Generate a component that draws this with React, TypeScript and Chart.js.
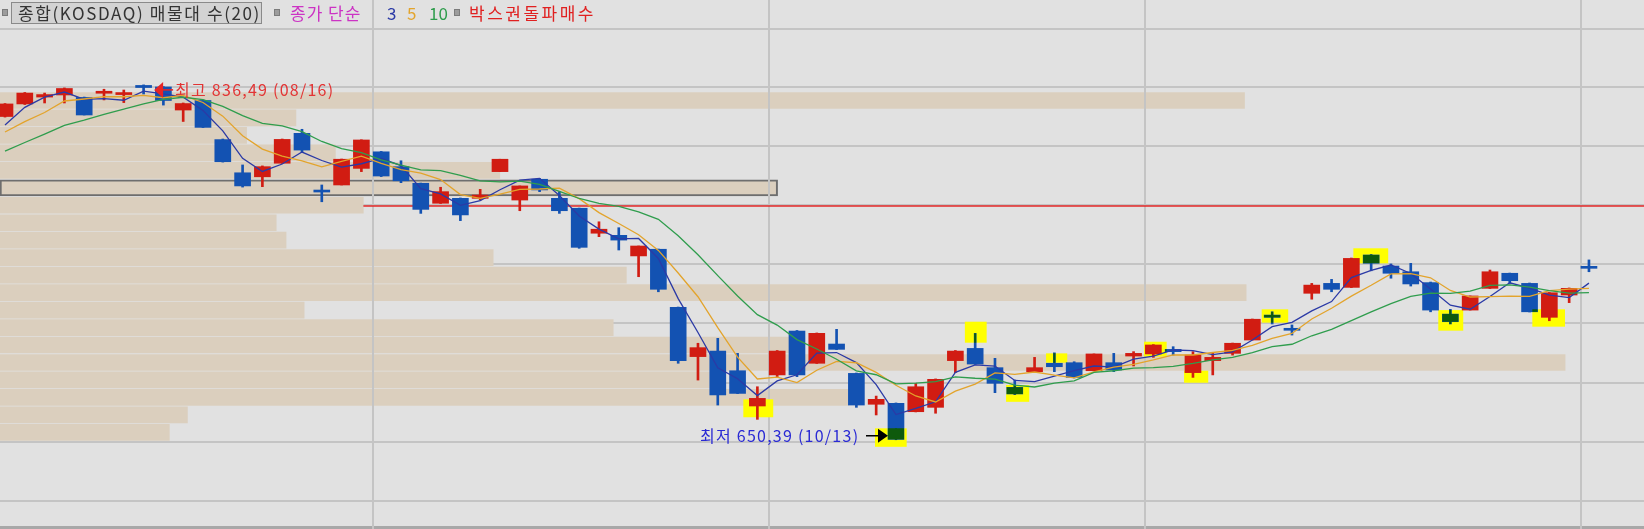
import React, { useEffect, useRef } from 'react';
import { Chart, registerables } from 'chart.js';

Chart.register(...registerables);

const W = 1644;
const H = 529;

// ---------------- data (KOSDAQ daily, index points) ----------------
const opens = [
  819.9, 826.5, 830.1, 831.2, 829.9, 832.1, 831.4, 836.2, 835.4, 823.3,
  828.3, 807.8, 790.4, 788.3, 795.4, 811.1, 780.8, 784.0, 792.7, 801.4,
  793.6, 784.9, 774.4, 777.0, 777.0, 791.0, 776.1, 787.0, 777.0, 771.8,
  758.7, 757.6, 746.8, 750.3, 719.9, 694.0, 696.9, 686.6, 668.1, 684.4,
  707.4, 690.5, 700.6, 685.2, 669.0, 669.5, 665.1, 667.4, 691.9, 698.3,
  688.2, 677.9, 686.1, 690.5, 690.8, 686.6, 690.8, 694.3, 695.4, 697.8,
  685.6, 691.9, 695.7, 702.7, 715.8, 708.7, 727.2, 732.4, 730.3, 747.3,
  741.5, 738.5, 732.8, 716.3, 718.4, 729.8, 737.7, 732.4, 714.6, 726.3,
  741.1,
];
const highs = [
  826.7, 832.5, 832.2, 834.9, 830.1, 834.2, 833.8, 836.49, 835.6, 827.0,
  828.6, 808.1, 794.5, 794.0, 808.1, 813.2, 784.0, 797.6, 807.7, 801.6,
  796.7, 785.0, 782.8, 777.2, 781.7, 797.5, 783.5, 787.4, 780.5, 771.9,
  764.7, 761.6, 752.0, 750.4, 720.0, 701.0, 703.6, 695.7, 678.2, 697.2,
  707.7, 706.4, 708.3, 685.4, 673.3, 669.7, 680.0, 682.3, 697.2, 706.2,
  693.1, 681.7, 693.6, 696.0, 691.3, 695.4, 695.7, 696.6, 700.3, 699.2,
  696.6, 695.7, 701.1, 713.7, 717.5, 710.6, 732.4, 734.5, 745.7, 747.5,
  742.6, 742.9, 733.1, 718.8, 725.8, 739.4, 737.8, 732.6, 727.6, 730.0,
  744.7,
];
const lows = [
  819.6, 826.2, 827.0, 827.0, 820.7, 828.6, 827.2, 831.7, 825.9, 817.3,
  814.1, 796.0, 782.9, 783.1, 795.3, 801.4, 775.2, 784.0, 791.0, 788.4,
  785.2, 769.1, 774.3, 765.3, 776.1, 791.0, 770.5, 780.5, 769.1, 750.8,
  756.9, 749.9, 735.9, 728.0, 690.5, 681.7, 668.6, 674.6, 661.1, 683.5,
  683.5, 690.4, 697.7, 667.4, 663.4, 650.39, 665.0, 664.3, 685.6, 689.9,
  675.1, 674.1, 685.9, 686.1, 682.8, 686.5, 686.1, 689.1, 693.6, 694.8,
  683.1, 684.4, 694.8, 702.7, 711.1, 705.3, 724.1, 728.0, 730.2, 739.0,
  735.1, 731.0, 717.5, 711.1, 718.4, 729.7, 732.4, 717.4, 712.8, 722.3,
  738.5,
];
const closes = [
  826.5, 832.2, 831.4, 834.6, 820.7, 832.6, 832.0, 835.1, 828.3, 826.7,
  814.2, 796.2, 783.5, 793.6, 807.9, 802.3, 780.3, 797.5, 807.6, 788.7,
  786.2, 771.2, 780.5, 768.3, 778.7, 797.5, 783.5, 781.4, 770.5, 751.3,
  760.8, 755.1, 752.0, 729.3, 691.9, 698.7, 673.9, 674.7, 672.1, 696.9,
  684.4, 706.2, 697.8, 668.6, 671.6, 650.6, 678.2, 682.1, 696.9, 690.1,
  680.0, 674.4, 688.2, 688.7, 683.1, 695.4, 687.0, 695.7, 700.1, 696.6,
  694.8, 693.6, 701.0, 713.6, 714.6, 707.8, 731.5, 729.3, 745.5, 742.9,
  737.7, 732.1, 718.4, 712.3, 725.8, 738.5, 733.8, 717.5, 727.5, 729.8,
  740.3,
];
// closes of the 9 sessions before the visible window (needed by the moving averages)
const priorCloses = [786.6, 787.7, 788.7, 792.9, 802.3, 805.0, 807.6, 804.4, 815.5];
const maPeriods = [3, 5, 10];

const highDate = '08/16';
const lowDate = '10/13';

// volume profile (매물대, 20 price bins)
const profileTop = 832.9;
const profileBottom = 649.7;
const profileVolumes = [757, 180, 150, 204, 304, 473, 221, 168, 174, 300, 381, 758, 185, 373, 481, 952, 435, 516, 114, 103];
const profileHighlight = 5;
const profileMax = 1000;

// grid / reference levels
const gridPrices = [865.8, 835.6, 804.5, 773.5, 742.4, 711.4, 680.3, 649.3, 618.2];
const monthBreaks = [18.57, 38.57, 57.57, 79.6];
const redLinePrice = 773.0;
const redLineFrom = 18.1;

// 박스권돌파매수 signal boxes: [fromIndex, toIndex, topPrice, bottomPrice]
const signalBoxes = [
  [37.29, 38.8, 671.6, 662.2],
  [43.94, 45.54, 656.4, 646.7],
  [48.48, 49.58, 712.3, 701.3],
  [50.56, 51.73, 679.1, 670.3],
  [52.58, 53.65, 695.7, 690.8],
  [57.53, 58.67, 701.8, 694.0],
  [59.55, 60.77, 686.6, 680.3],
  [63.47, 64.81, 718.8, 711.8],
  [68.1, 69.86, 750.8, 742.9],
  [72.39, 73.65, 718.4, 707.6],
  [77.14, 78.79, 718.8, 709.7],
];

const X_MIN = -0.2525;
const X_MAX = 82.78;
const Y_MIN = 603.6;
const Y_MAX = 881;

// ---------------- styles ----------------
const BG = '#e1e1e1';
const GRID = '#c4c4c4';
const TAN = '#dbcfbe';
const UP = '#d11c12';
const DOWN = '#1352b2';
const YELLOW = '#ffff00';
const SIGNAL_GREEN = '#0e5a0c';
const MA_COLORS = ['#2b3aa6', '#e3a42c', '#2f9d4d'];
const FONT = '"Noto Sans CJK KR", "Noto Sans", sans-serif';

const PROFILE_IDX = 0;
const WICK_IDX = 1;
const BODY_IDX = 2;

const candleColor = (i: number) => (closes[i] >= opens[i] ? UP : DOWN);

const allCloses = [...priorCloses, ...closes];
const movingAverage = (n: number) =>
  closes.map((_, i) => {
    const j = i + priorCloses.length;
    let s = 0;
    for (let k = 0; k < n; k++) s += allCloses[j - k];
    return s / n;
  });

const fmt = (v: number) => v.toFixed(2).replace('.', ',');

function spacedText(ctx: any, text: string, x: number, y: number, targetWidth: number) {
  ctx.save();
  ctx.letterSpacing = '0px';
  const natural = ctx.measureText(text).width;
  const n = Array.from(text).length;
  const ls = Math.max(0, (targetWidth - natural) / (n - 1));
  ctx.letterSpacing = ls.toFixed(2) + 'px';
  ctx.fillText(text, x, y);
  ctx.restore();
}

const paintPlugin = {
  id: 'paint',
  beforeDraw(chart: any) {
    const ctx = chart.ctx;
    ctx.save();
    ctx.fillStyle = BG;
    ctx.fillRect(0, 0, chart.width, chart.height);
    const ys = chart.scales.y;
    ctx.strokeStyle = GRID;
    ctx.lineWidth = 2;
    gridPrices.forEach((p) => {
      const y = Math.round(ys.getPixelForValue(p));
      ctx.beginPath();
      ctx.moveTo(0, y);
      ctx.lineTo(chart.width, y);
      ctx.stroke();
    });
    ctx.strokeStyle = '#a8a8a8';
    ctx.lineWidth = 3;
    ctx.beginPath();
    ctx.moveTo(0, chart.height - 1.5);
    ctx.lineTo(chart.width, chart.height - 1.5);
    ctx.stroke();
    ctx.restore();
  },
  afterDatasetDraw(chart: any, args: any) {
    const ctx = chart.ctx;
    const xs = chart.scales.x;
    const ys = chart.scales.y;
    if (args.index === PROFILE_IDX) {
      ctx.save();
      ctx.strokeStyle = GRID;
      ctx.lineWidth = 2;
      monthBreaks.forEach((m) => {
        const x = Math.round(xs.getPixelForValue(m));
        ctx.beginPath();
        ctx.moveTo(x, 0);
        ctx.lineTo(x, chart.height);
        ctx.stroke();
      });
      const ry = ys.getPixelForValue(redLinePrice);
      ctx.strokeStyle = '#e42828';
      ctx.lineWidth = 1.5;
      ctx.beginPath();
      ctx.moveTo(xs.getPixelForValue(redLineFrom), ry);
      ctx.lineTo(chart.width, ry);
      ctx.stroke();
      ctx.fillStyle = YELLOW;
      signalBoxes.forEach((b) => {
        const x0 = xs.getPixelForValue(b[0]);
        const x1 = xs.getPixelForValue(b[1]);
        const y0 = ys.getPixelForValue(b[2]);
        const y1 = ys.getPixelForValue(b[3]);
        ctx.fillRect(x0, y0, x1 - x0, y1 - y0);
      });
      ctx.restore();
    }
    if (args.index === BODY_IDX) {
      const bodyMeta = chart.getDatasetMeta(BODY_IDX);
      const wickMeta = chart.getDatasetMeta(WICK_IDX);
      signalBoxes.forEach((b) => {
        const x0 = xs.getPixelForValue(b[0]);
        const x1 = xs.getPixelForValue(b[1]);
        const y0 = ys.getPixelForValue(b[2]);
        const y1 = ys.getPixelForValue(b[3]);
        ctx.save();
        ctx.beginPath();
        ctx.rect(x0, y0, x1 - x0, y1 - y0);
        ctx.clip();
        ctx.fillStyle = SIGNAL_GREEN;
        closes.forEach((c, i) => {
          if (c >= opens[i]) return;
          [wickMeta.data[i], bodyMeta.data[i]].forEach((el: any) => {
            const p = el.getProps(['x', 'y', 'base', 'width'], true);
            const top = Math.min(p.y, p.base);
            const h = Math.abs(p.base - p.y);
            ctx.fillRect(p.x - p.width / 2, top, p.width, h);
          });
        });
        ctx.restore();
      });
    }
  },
  afterDatasetsDraw(chart: any) {
    const ctx = chart.ctx;
    const xs = chart.scales.x;
    const ys = chart.scales.y;
    ctx.save();
    ctx.font = '16px ' + FONT;
    ctx.textBaseline = 'middle';
    ctx.textAlign = 'left';

    // highest
    const hiVal = Math.max(...highs);
    const hi = highs.indexOf(hiVal);
    const xh = xs.getPixelForValue(hi);
    const cyh = ys.getPixelForValue(hiVal) + 5;
    const tipH = xh + 10.5;
    ctx.fillStyle = '#e82424';
    ctx.beginPath();
    ctx.moveTo(tipH, cyh);
    ctx.lineTo(tipH + 9, cyh - 8);
    ctx.lineTo(tipH + 9, cyh + 8);
    ctx.closePath();
    ctx.fill();
    ctx.strokeStyle = '#e82424';
    ctx.lineWidth = 1.5;
    ctx.beginPath();
    ctx.moveTo(tipH + 8, cyh);
    ctx.lineTo(tipH + 19, cyh);
    ctx.stroke();
    ctx.fillStyle = '#e23434';
    spacedText(ctx, `최고 ${fmt(hiVal)} (${highDate})`, tipH + 21, cyh, 158);

    // lowest
    const loVal = Math.min(...lows);
    const lo = lows.indexOf(loVal);
    const xl = xs.getPixelForValue(lo);
    const cyl = ys.getPixelForValue(loVal) - 4;
    const tipL = xl - 8;
    ctx.fillStyle = '#000';
    ctx.beginPath();
    ctx.moveTo(tipL, cyl);
    ctx.lineTo(tipL - 10, cyl - 7);
    ctx.lineTo(tipL - 10, cyl + 7);
    ctx.closePath();
    ctx.fill();
    ctx.strokeStyle = '#000';
    ctx.lineWidth = 1.5;
    ctx.beginPath();
    ctx.moveTo(tipL - 22, cyl);
    ctx.lineTo(tipL - 9, cyl);
    ctx.stroke();
    ctx.fillStyle = '#2a2ad4';
    spacedText(ctx, `최저 ${fmt(loVal)} (${lowDate})`, tipL - 30 - 158, cyl, 158);
    ctx.restore();
  },
};

export default function App() {
  const ref = useRef<HTMLCanvasElement>(null);

  useEffect(() => {
    const canvas = ref.current;
    if (!canvas) return;
    const binSize = (profileTop - profileBottom) / profileVolumes.length;
    const ma = maPeriods.map((n) => movingAverage(n));

    const datasets: any[] = [
      {
        type: 'bar',
        indexAxis: 'y',
        xAxisID: 'xv',
        yAxisID: 'y',
        data: profileVolumes.map((v, k) => ({ y: profileTop - (k + 0.5) * binSize, x: [0, v] })),
        backgroundColor: TAN,
        borderColor: profileVolumes.map((_, k) => (k === profileHighlight ? '#6e6e6e' : 'rgba(0,0,0,0)')),
        borderWidth: profileVolumes.map((_, k) => (k === profileHighlight ? 2 : 0)),
        borderSkipped: false,
        barThickness: 16,
        grouped: false,
        order: 10,
      },
      {
        type: 'bar',
        xAxisID: 'x',
        yAxisID: 'y',
        data: closes.map((_, i) => ({ x: i, y: [lows[i], highs[i]] })),
        backgroundColor: closes.map((_, i) => candleColor(i)),
        barThickness: 2,
        grouped: false,
        order: 6,
      },
      {
        type: 'bar',
        xAxisID: 'x',
        yAxisID: 'y',
        data: closes.map((c, i) => ({ x: i, y: [opens[i], c] })),
        backgroundColor: closes.map((_, i) => candleColor(i)),
        barThickness: 16,
        minBarLength: 2,
        grouped: false,
        order: 5,
      },
      ...ma.map((series, k) => ({
        type: 'line',
        xAxisID: 'x',
        yAxisID: 'y',
        data: series.map((v, i) => ({ x: i, y: v })),
        borderColor: MA_COLORS[k],
        borderWidth: 1.3,
        pointRadius: 0,
        tension: 0,
        fill: false,
        order: 3 - k,
      })),
    ];

    const chart = new Chart(canvas, {
      type: 'bar',
      data: { datasets },
      options: {
        responsive: false,
        maintainAspectRatio: false,
        animation: false,
        devicePixelRatio: 1,
        events: [],
        layout: { padding: 0 },
        plugins: { legend: { display: false }, tooltip: { enabled: false } },
        scales: {
          x: { type: 'linear', axis: 'x', min: X_MIN, max: X_MAX, display: false, offset: false },
          xv: { type: 'linear', axis: 'x', min: 0, max: profileMax, display: false, offset: false },
          y: { type: 'linear', axis: 'y', min: Y_MIN, max: Y_MAX, display: false, offset: false },
        },
      } as any,
      plugins: [paintPlugin as any],
    } as any);
    return () => chart.destroy();
  }, []);

  const sq = (left: number): React.CSSProperties => ({
    position: 'absolute',
    left,
    top: 9,
    width: 6,
    height: 7,
    boxSizing: 'border-box',
    background: '#9c9c9c',
    border: '1px solid #7c7c7c',
  });
  const txt = (left: number, color: string, ls = 0): React.CSSProperties => ({
    position: 'absolute',
    left,
    top: 2,
    height: 22,
    lineHeight: '22px',
    color,
    whiteSpace: 'nowrap',
    letterSpacing: ls + 'px',
  });

  return (
    <div style={{ position: 'fixed', left: 0, top: 0, width: W, height: H, background: BG, overflow: 'hidden' }}>
      <canvas ref={ref} width={W} height={H} style={{ position: 'absolute', left: 0, top: 0, width: W, height: H }} />
      <div style={{ position: 'absolute', left: 0, top: 0, width: W, height: 27, fontFamily: FONT, fontSize: 17 }}>
        <span style={sq(2)} />
        <span
          style={{
            position: 'absolute',
            left: 11,
            top: 2,
            width: 251,
            height: 22,
            boxSizing: 'border-box',
            border: '1px solid #8a8a8a',
            background: '#d3d3d3',
            color: '#333',
            paddingLeft: 6,
            lineHeight: '20px',
            whiteSpace: 'nowrap',
            letterSpacing: '1.6px',
          }}
        >
          종합(KOSDAQ) 매물대 수(20)
        </span>
        <span style={sq(274)} />
        <span style={txt(290, '#cc33c4', 1)}>종가 단순</span>
        <span style={txt(387, MA_COLORS[0])}>3</span>
        <span style={txt(407, MA_COLORS[1])}>5</span>
        <span style={txt(429, MA_COLORS[2])}>10</span>
        <span style={sq(454)} />
        <span style={txt(469, '#e02020', 2.5)}>박스권돌파매수</span>
      </div>
    </div>
  );
}
